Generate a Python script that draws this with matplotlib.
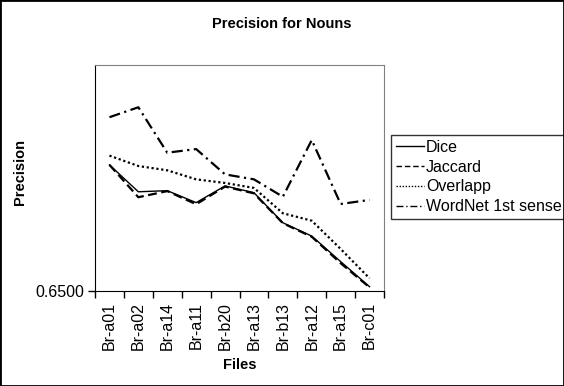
import matplotlib
matplotlib.use("Agg")
import matplotlib.pyplot as plt
from matplotlib.patches import Rectangle
from matplotlib.ticker import FixedLocator, NullFormatter

plt.rcParams['font.family'] = ['Liberation Sans', 'DejaVu Sans']

# data
files = ["Br-a01", "Br-a02", "Br-a14", "Br-a11", "Br-b20",
         "Br-a13", "Br-b13", "Br-a12", "Br-a15", "Br-c01"]
dice = [0.7058, 0.6939, 0.6944, 0.6891, 0.6965, 0.6935, 0.6802, 0.6743, 0.6630, 0.6519]
jaccard = [0.7058, 0.6915, 0.6942, 0.6884, 0.6962, 0.6932, 0.6800, 0.6740, 0.6623, 0.6516]
overlapp = [0.7099, 0.7053, 0.7034, 0.6994, 0.6978, 0.6956, 0.6844, 0.6811, 0.6686, 0.6556]
wordnet = [0.7269, 0.7313, 0.7112, 0.7128, 0.7016, 0.6994, 0.6917, 0.7168, 0.6885, 0.6903]

fs = 11.5      # tick and legend text
fs_b = 10.5    # bold titles

fig = plt.figure(figsize=(5.64, 3.86), dpi=100)
ax = fig.add_axes([95/564, 1 - 291/386, 289/564, 226/386])

x = list(range(len(files)))
ax.plot(x, dice, color="black", lw=1.0, ls="-", label="Dice")
ax.plot(x, jaccard, color="black", lw=1.6, ls=(0, (4, 2)), label="Jaccard")
ax.plot(x, overlapp, color="black", lw=1.6, ls=(0, (1, 1.2)), label="Overlapp")
ax.plot(x, wordnet, color="black", lw=1.6, ls=(0, (5, 2, 1, 2)), label="WordNet 1st sense")

ax.set_xlim(-0.5, len(files) - 0.5)
ax.set_ylim(0.65, 0.75)

# ticks between categories, labels at category centres
ax.xaxis.set_major_locator(FixedLocator([i - 0.5 for i in range(len(files) + 1)]))
ax.xaxis.set_major_formatter(NullFormatter())
ax.xaxis.set_minor_locator(FixedLocator(x))
ax.set_xticklabels(files, minor=True, rotation=90, fontsize=fs)
ax.tick_params(axis="x", which="major", direction="out", length=5, width=1)
ax.tick_params(axis="x", which="minor", length=0, pad=8)

ax.set_yticks([0.65])
ax.set_yticklabels(["0.6500"], fontsize=fs)
ax.tick_params(axis="y", direction="out", length=5, width=1, pad=3)

for s in ["top", "right"]:
    ax.spines[s].set_color("#808080")
for s in ["left", "bottom"]:
    ax.spines[s].set_color("black")

fig.text(0.5, 1 - 24/386, "Precision for Nouns", ha="center", va="center",
         fontsize=fs_b, fontweight="bold")
fig.text(20/564, 1 - 172/386, "Precision", ha="center", va="center",
         rotation=90, fontsize=fs_b, fontweight="bold")
fig.text(240/564, 1 - 365/386, "Files", ha="center", va="center",
         fontsize=fs_b, fontweight="bold")

leg = ax.legend(loc="upper left", bbox_to_anchor=(391/564, 1 - 135/386),
                bbox_transform=fig.transFigure, borderaxespad=0,
                fontsize=fs, frameon=True, fancybox=False,
                handlelength=1.75, handletextpad=0.15, labelspacing=0.3,
                borderpad=0.3)
leg.get_frame().set_edgecolor("black")
leg.get_frame().set_linewidth(1.0)
for line in leg.get_lines():
    line.set_linewidth(1.0)

fig.patches.append(Rectangle((0, 0), 1, 1, transform=fig.transFigure,
                             fill=False, edgecolor="black", lw=2))

fig.savefig("out.png", dpi=100)
